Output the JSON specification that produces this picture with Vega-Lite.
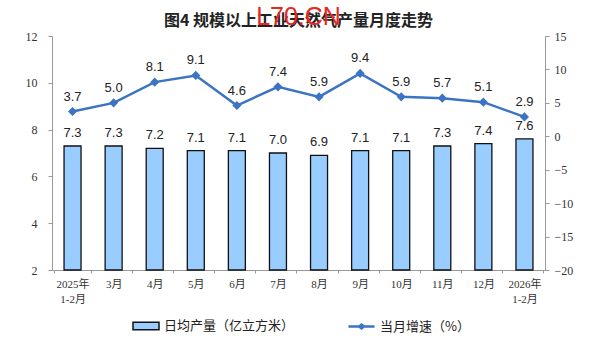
{
  "$schema": "https://vega.github.io/schema/vega-lite/v6.json",
  "width": 493,
  "height": 234,
  "autosize": {"type": "none"},
  "padding": {"left": 52, "top": 36, "right": 59, "bottom": 84},
  "background": "white",
  "title": {
    "text": "图4  规模以上工业天然气产量月度走势",
    "subtitle": "L70.CN",
    "anchor": "middle",
    "frame": "group",
    "font": "Noto Sans CJK SC",
    "fontSize": 16,
    "fontWeight": "bold",
    "color": "#222",
    "subtitleFont": "Liberation Sans",
    "subtitleFontSize": 25,
    "subtitleColor": "#E8271E",
    "subtitlePadding": -24,
    "offset": -8
  },
  "config": {
    "view": {"stroke": null},
    "axis": {"grid": false, "domainColor": "#999", "tickColor": "#999", "labelColor": "#333", "labelFont": "Liberation Serif, Noto Sans CJK SC", "labelFontSize": 12, "title": null, "labelOverlap": false, "labelBound": false}
  },
  "data": {
    "values": [
      {"month": "2025年|1-2月", "output": 7.3, "growth": 3.7},
      {"month": "3月", "output": 7.3, "growth": 5.0},
      {"month": "4月", "output": 7.2, "growth": 8.1},
      {"month": "5月", "output": 7.1, "growth": 9.1},
      {"month": "6月", "output": 7.1, "growth": 4.6},
      {"month": "7月", "output": 7.0, "growth": 7.4},
      {"month": "8月", "output": 6.9, "growth": 5.9},
      {"month": "9月", "output": 7.1, "growth": 9.4},
      {"month": "10月", "output": 7.1, "growth": 5.9},
      {"month": "11月", "output": 7.3, "growth": 5.7},
      {"month": "12月", "output": 7.4, "growth": 5.1},
      {"month": "2026年|1-2月", "output": 7.6, "growth": 2.9}
    ]
  },
  "encoding": {
    "x": {
      "field": "month",
      "type": "nominal",
      "sort": null,
      "axis": {
        "labelExpr": "isString(datum.value) ? split(datum.value, '|') : ''",
        "labelAngle": 0,
        "labelFontSize": 11,
        "labelLineHeight": 15,
        "labelPadding": 5,
        "tickBand": "extent",
        "tickSize": 3,
        "labelBaseline": "top"
      }
    }
  },
  "layer": [
    {
      "layer": [
        {
          "mark": {"type": "bar", "size": 17, "stroke": "#111", "strokeWidth": 1.3},
          "encoding": {
            "y": {"field": "output", "type": "quantitative", "scale": {"domain": [2, 12], "nice": false, "zero": false}, "axis": {"values": [2, 4, 6, 8, 10, 12], "orient": "left", "tickSize": 4, "labelPadding": 11, "labelOverlap": false}},
            "y2": {"datum": 2},
            "fill": {
              "datum": "日均产量（亿立方米）",
              "scale": {"range": ["#99CCFF"]},
              "legend": {
                "orient": "none", "legendX": 80, "legendY": 276, "padding": 0,
                "title": null,
                "symbolType": "M-1,-0.28H1V0.28H-1Z",
                "symbolSize": 676,
                "symbolStrokeColor": "#111",
                "symbolStrokeWidth": 1.5,
                "labelFont": "Noto Sans CJK SC",
                "labelFontSize": 13,
                "labelColor": "#222",
                "labelOffset": 4
              }
            }
          }
        },
        {
          "mark": {"type": "text", "dy": -13, "font": "Liberation Sans", "fontSize": 13, "color": "#222"},
          "encoding": {
            "y": {"field": "output", "type": "quantitative"},
            "text": {"field": "output", "type": "quantitative", "format": ".1f"}
          }
        }
      ]
    },
    {
      "layer": [
        {
          "mark": {"type": "line", "strokeWidth": 2.5, "point": {"shape": "diamond", "filled": true, "size": 40, "color": "#3B74C2"}},
          "encoding": {
            "y": {"field": "growth", "type": "quantitative", "scale": {"domain": [-20, 15], "nice": false, "zero": false}, "axis": {"values": [-20, -15, -10, -5, 0, 5, 10, 15], "tickCount": 8, "orient": "right", "tickSize": 4, "labelPadding": 5, "labelOverlap": false, "labelFlush": false}},
            "stroke": {
              "datum": "当月增速（%）",
              "scale": {"range": ["#3B74C2"]},
              "legend": {
                "orient": "none", "legendX": 295, "legendY": 276, "padding": 0,
                "title": null,
                "symbolType": "M-1,0H1M-0.18,0L0,-0.14L0.18,0L0,0.14Z",
                "symbolSize": 676,
                "symbolFillColor": "#3B74C2",
                "symbolStrokeWidth": 2.5,
                "labelFont": "Noto Sans CJK SC",
                "labelFontSize": 13,
                "labelColor": "#222",
                "labelOffset": 4
              }
            }
          }
        },
        {
          "mark": {"type": "text", "dy": -15, "font": "Liberation Sans", "fontSize": 13, "color": "#222"},
          "encoding": {
            "y": {"field": "growth", "type": "quantitative"},
            "text": {"field": "growth", "type": "quantitative", "format": ".1f"}
          }
        }
      ]
    }
  ],
  "resolve": {"scale": {"y": "independent", "fill": "independent", "stroke": "independent"}}
}
